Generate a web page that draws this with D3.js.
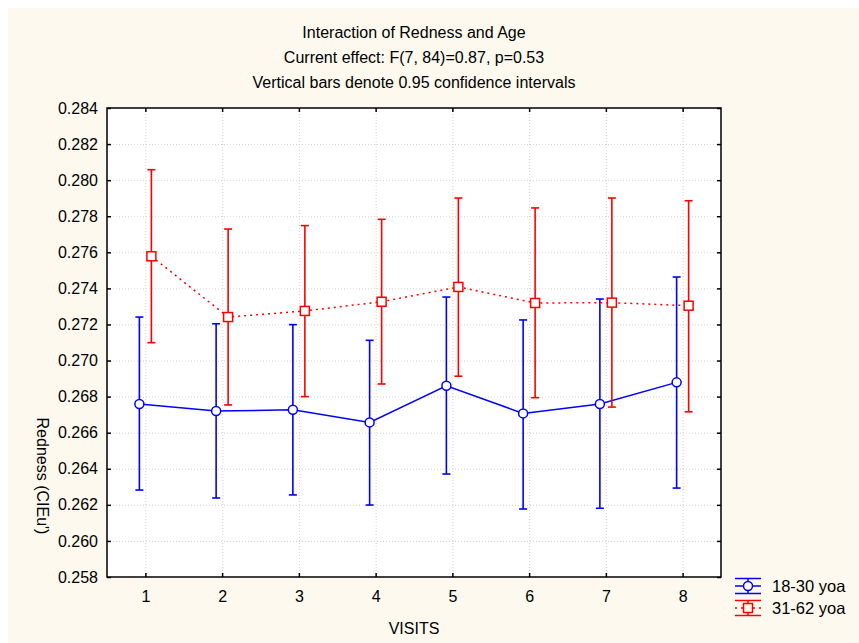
<!DOCTYPE html>
<html>
<head>
<meta charset="utf-8">
<script src="https://cdn.jsdelivr.net/npm/d3@7"></script>
<style>
  html, body { margin: 0; padding: 0; background: #ffffff; }
  svg { display: block; font-family: "Liberation Sans", Arial, sans-serif; }
</style>
</head>
<body>
<svg id="chart" width="859" height="643"></svg>
<script>
// Visits on the x axis
const visits = [1, 2, 3, 4, 5, 6, 7, 8];

// 18-30 yoa: means and 0.95 confidence limits
const youngMean  = [0.26759, 0.26720, 0.26727, 0.26657, 0.26860, 0.26707, 0.26759, 0.26879];
const youngUpper = [0.27241, 0.27204, 0.27199, 0.27112, 0.27352, 0.27225, 0.27341, 0.27463];
const youngLower = [0.26282, 0.26238, 0.26255, 0.26199, 0.26371, 0.26177, 0.26181, 0.26293];

// 31-62 yoa: means and 0.95 confidence limits
const olderMean  = [0.27578, 0.27241, 0.27275, 0.27326, 0.27408, 0.27319, 0.27321, 0.27304];
const olderUpper = [0.28058, 0.27729, 0.27748, 0.27783, 0.27901, 0.27846, 0.27901, 0.27886];
const olderLower = [0.27099, 0.26754, 0.26800, 0.26870, 0.26913, 0.26794, 0.26742, 0.26716];

const yTicks = [0.258, 0.260, 0.262, 0.264, 0.266, 0.268, 0.270, 0.272, 0.274, 0.276, 0.278, 0.280, 0.282, 0.284];

const titleLines = [
  "Interaction of Redness and Age",
  "Current effect: F(7, 84)=0.87, p=0.53",
  "Vertical bars denote 0.95 confidence intervals"
];
const seriesNames = ["18-30 yoa", "31-62 yoa"];

const svg = d3.select("#chart");
const W = 859, H = 643;
const plot = { left: 107, top: 108, right: 721, bottom: 577 };
const cream = "#fdf9ee";

// cream page panel
svg.append("rect").attr("x", 8).attr("y", 8).attr("width", W - 8).attr("height", H - 8)
  .attr("fill", cream);

const x = d3.scaleLinear().domain([0.5, 8.5]).range([plot.left, plot.right]);
const y = d3.scaleLinear().domain([0.258, 0.284]).range([plot.bottom, plot.top]);

// white plotting area
svg.append("rect")
  .attr("x", plot.left).attr("y", plot.top)
  .attr("width", plot.right - plot.left).attr("height", plot.bottom - plot.top)
  .attr("fill", "#ffffff");

// dotted grid
const grid = svg.append("g").attr("stroke", "#d4d4d4").attr("stroke-width", 1)
  .attr("stroke-dasharray", "1,2");
grid.selectAll("line.h").data(yTicks.slice(1, -1)).join("line")
  .attr("x1", plot.left).attr("x2", plot.right)
  .attr("y1", d => y(d) + 0.5).attr("y2", d => y(d) + 0.5);
grid.selectAll("line.v").data(visits).join("line")
  .attr("y1", plot.top).attr("y2", plot.bottom)
  .attr("x1", d => x(d) + 0.5).attr("x2", d => x(d) + 0.5);

// axes with inward ticks on all four sides
const tickFont = g => g.selectAll("text").attr("font-size", 16).attr("fill", "#000")
  .attr("font-family", "'Liberation Sans', Arial, sans-serif");

const yLeft = svg.append("g").attr("transform", `translate(${plot.left},0)`)
  .call(d3.axisLeft(y).tickValues(yTicks).tickFormat(d3.format(".3f")).tickSizeInner(-4).tickSizeOuter(0).tickPadding(9));
yLeft.call(tickFont);
const yRight = svg.append("g").attr("transform", `translate(${plot.right},0)`)
  .call(d3.axisRight(y).tickValues(yTicks).tickSizeInner(-4).tickSizeOuter(0).tickFormat(""));
const xBottom = svg.append("g").attr("transform", `translate(0,${plot.bottom})`)
  .call(d3.axisBottom(x).tickValues(visits).tickFormat(d3.format("d")).tickSizeInner(-4).tickSizeOuter(0).tickPadding(14));
xBottom.call(tickFont);
const xTop = svg.append("g").attr("transform", `translate(0,${plot.top})`)
  .call(d3.axisTop(x).tickValues(visits).tickSizeInner(-4).tickSizeOuter(0).tickFormat(""));
[yLeft, yRight, xBottom, xTop].forEach(g => {
  g.select(".domain").remove();
  g.selectAll(".tick line").attr("stroke", "#000").attr("stroke-width", 1.5);
});

// frame
svg.append("rect")
  .attr("x", plot.left).attr("y", plot.top)
  .attr("width", plot.right - plot.left).attr("height", plot.bottom - plot.top)
  .attr("fill", "none").attr("stroke", "#000").attr("stroke-width", 1.5);

// series
const series = [
  { name: seriesNames[0], mean: youngMean, lo: youngLower, hi: youngUpper, color: "#0000ff", dx: -6, dash: null, shape: "circle" },
  { name: seriesNames[1], mean: olderMean, lo: olderLower, hi: olderUpper, color: "#ff0000", dx: 6, dash: "2,4", shape: "square" }
];

const capW = 4;
series.forEach(s => {
  const g = svg.append("g");
  const pts = visits.map((v, i) => ({ v, m: s.mean[i], lo: s.lo[i], hi: s.hi[i] }));
  const px = d => x(d.v) + s.dx;

  // error bars
  const eb = g.append("g").attr("stroke", s.color).attr("stroke-width", 1.6).attr("fill", "none");
  eb.selectAll("line.bar").data(pts).join("line")
    .attr("x1", px).attr("x2", px).attr("y1", d => y(d.lo)).attr("y2", d => y(d.hi));
  eb.selectAll("line.capHi").data(pts).join("line")
    .attr("x1", d => px(d) - capW).attr("x2", d => px(d) + capW)
    .attr("y1", d => y(d.hi)).attr("y2", d => y(d.hi));
  eb.selectAll("line.capLo").data(pts).join("line")
    .attr("x1", d => px(d) - capW).attr("x2", d => px(d) + capW)
    .attr("y1", d => y(d.lo)).attr("y2", d => y(d.lo));

  // connecting line
  g.append("path").datum(pts)
    .attr("d", d3.line().x(px).y(d => y(d.m)))
    .attr("fill", "none").attr("stroke", s.color).attr("stroke-width", 1.5)
    .attr("stroke-dasharray", s.dash);

  // markers
  if (s.shape === "circle") {
    g.selectAll("circle").data(pts).join("circle")
      .attr("cx", px).attr("cy", d => y(d.m)).attr("r", 4.5)
      .attr("fill", "#fff").attr("stroke", s.color).attr("stroke-width", 1.5);
  } else {
    g.selectAll("rect").data(pts).join("rect")
      .attr("x", d => px(d) - 4.5).attr("y", d => y(d.m) - 4.5)
      .attr("width", 9).attr("height", 9)
      .attr("fill", "#fff").attr("stroke", s.color).attr("stroke-width", 1.5);
  }
});

// titles
svg.append("g").selectAll("text").data(titleLines).join("text")
  .attr("x", (plot.left + plot.right) / 2)
  .attr("y", (d, i) => 38 + i * 25)
  .attr("text-anchor", "middle").attr("font-size", 16).attr("fill", "#000")
  .text(d => d);

// axis titles
svg.append("text").attr("x", (plot.left + plot.right) / 2).attr("y", 634)
  .attr("text-anchor", "middle").attr("font-size", 16).attr("fill", "#000").text("VISITS");
svg.append("text").attr("transform", "translate(37,476) rotate(90)")
  .attr("text-anchor", "middle").attr("font-size", 16).attr("fill", "#000").text("Redness (CIEu')");

// legend
const legend = svg.append("g");
series.forEach((s, i) => {
  const cy = 586 + i * 22, cx = 748, half = 13, gap = 7.5;
  const lg = legend.append("g").attr("stroke", s.color).attr("stroke-width", 1.5).attr("fill", "none");
  lg.append("line").attr("x1", cx - half).attr("x2", cx + half).attr("y1", cy - gap).attr("y2", cy - gap);
  lg.append("line").attr("x1", cx - half).attr("x2", cx + half).attr("y1", cy + gap).attr("y2", cy + gap);
  lg.append("line").attr("x1", cx).attr("x2", cx).attr("y1", cy - gap).attr("y2", cy + gap);
  lg.append("line").attr("x1", cx - half).attr("x2", cx + half).attr("y1", cy).attr("y2", cy)
    .attr("stroke-dasharray", s.dash);
  if (s.shape === "circle") {
    lg.append("circle").attr("cx", cx).attr("cy", cy).attr("r", 4.5).attr("fill", cream);
  } else {
    lg.append("rect").attr("x", cx - 4.5).attr("y", cy - 4.5).attr("width", 9).attr("height", 9).attr("fill", cream);
  }
  legend.append("text").attr("x", 772).attr("y", cy + 6)
    .attr("font-size", 16.5).attr("fill", "#000").text(s.name);
});
</script>
</body>
</html>
